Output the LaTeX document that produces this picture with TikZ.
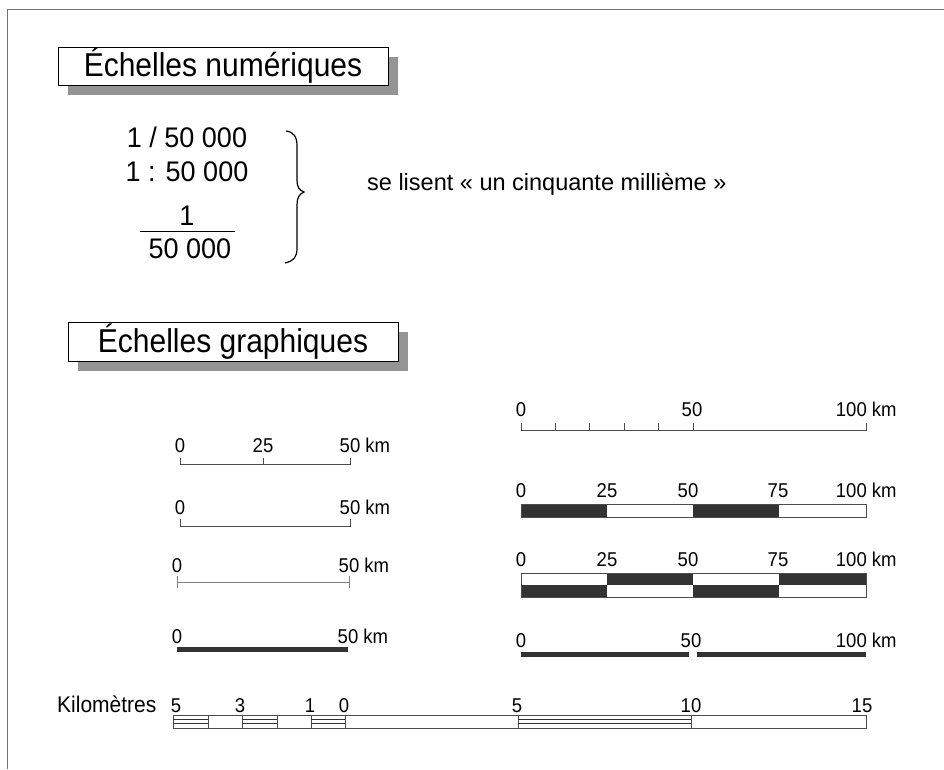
\documentclass[tikz,border=0pt]{standalone}
\usepackage{fontspec}
\setmainfont{Liberation Sans}
\usetikzlibrary{shadows}
\definecolor{barfill}{gray}{0.2}
\definecolor{shadowc}{gray}{0.58}
\definecolor{linec}{gray}{0.3}
\definecolor{framec}{gray}{0.45}
\begin{document}
\begin{tikzpicture}[x=1pt,y=-1pt,
  heading/.style={draw=black, line width=0.8pt, fill=white, inner sep=0pt,
    font=\fontsize{30}{32}\selectfont,
    general shadow={fill=shadowc, shadow xshift=10pt, shadow yshift=-10pt}},
  lab/.style={font=\fontsize{18.5}{20}\selectfont, inner sep=0pt, anchor=base, yscale=1.08},
  labr/.style={lab, anchor=base east},
  num/.style={font=\fontsize{27}{28}\selectfont, inner sep=0pt, anchor=base, yscale=1.05},
  txt/.style={font=\fontsize{23.5}{24}\selectfont, inner sep=0pt, anchor=base west},
  scaleline/.style={draw=linec, line width=0.9pt},
  thickbar/.style={draw=barfill, line width=5pt},
  blk/.style={fill=barfill},
  boxline/.style={draw=linec, line width=0.8pt},
]
\useasboundingbox (0,0) rectangle (944,769);
% page frame
\draw[framec, line width=1pt] (944,9) -- (7,9) -- (7,769);

% ---------- headings ----------
\node[heading, minimum width=330pt, minimum height=38pt] (h1) at (223,66) {\scalebox{1}[1.1]{Échelles numériques}};
\node[heading, minimum width=330pt, minimum height=39pt] (h2) at (233,341.5) {\scalebox{1}[1.1]{Échelles graphiques}};

% ---------- numeric scales ----------
\node[num] (n1) at (187,147) {1 / 50 000};
\node[num] (n2) at (187,181) {1 : 50 000};
\node[num] (n3) at (187,225) {1};
\node[num] (n4) at (190,258) {50 000};
\draw[line width=0.9pt] (140,231) -- (235,231);
\draw[line width=1.2pt] (286,131) .. controls (294,132) and (297,137) .. (297,146) -- (297,180)
   .. controls (297,187) and (299,190) .. (304,192)
   .. controls (299,194) and (297,198) .. (297,205) -- (297,248)
   .. controls (297,257) and (294,261) .. (285,263);
\node[txt] (lis) at (367,190) {se lisent «~un cinquante millième~»};

% ---------- left column ----------
% bar 1
\draw[scaleline] (180,458) -- (180,464) -- (350,464) -- (350,458);
\draw[scaleline] (263,458) -- (263,464);
\node[lab] (a0) at (180,452) {0};
\node[lab] (a25) at (263,452) {25};
\node[lab] (a50) at (350,452) {50\rlap{ km}};
% bar 2
\draw[scaleline] (180,519) -- (180,526) -- (350,526) -- (350,519);
\node[lab] (b0) at (180,514) {0};
\node[lab] (b50) at (350,514) {50\rlap{ km}};
% bar 3
\draw[scaleline, draw=gray] (177,582) -- (349,582);
\draw[scaleline, draw=gray] (177,576) -- (177,588);
\draw[scaleline, draw=gray] (349,576) -- (349,588);
\node[lab] (c0) at (177,572) {0};
\node[lab] (c50) at (349,572) {50\rlap{ km}};
% bar 4
\draw[thickbar] (177,649.5) -- (348,649.5);
\node[lab] (d0) at (177,643) {0};
\node[lab] (d50) at (348,643) {50\rlap{ km}};

% ---------- right column ----------
% bar R1
\draw[scaleline] (521,423) -- (521,430) -- (866,430) -- (866,423);
\foreach \xx in {555,589,624,658,693} \draw[scaleline] (\xx,423) -- (\xx,430);
\node[lab] (e0) at (521,416) {0};
\node[lab] (e50) at (692,416) {50};
\node[labr] (e100) at (867,416) {100\rlap{ km}};
% bar R2
\fill[blk] (521,504) rectangle (607,517);
\fill[blk] (693,504) rectangle (779,517);
\draw[boxline] (521,504) rectangle (866,517);
\node[lab] (f0) at (521,497) {0};
\node[lab] (f25) at (607,497) {25};
\node[lab] (f50) at (688,497) {50};
\node[lab] (f75) at (778,497) {75};
\node[labr] (f100) at (867,497) {100\rlap{ km}};
% bar R3
\fill[blk] (607,573) rectangle (693,585);
\fill[blk] (779,573) rectangle (866,585);
\fill[blk] (521,585) rectangle (607,597);
\fill[blk] (693,585) rectangle (779,597);
\draw[boxline] (521,573) rectangle (866,597);
\node[lab] (g0) at (521,566) {0};
\node[lab] (g25) at (607,566) {25};
\node[lab] (g50) at (688,566) {50};
\node[lab] (g75) at (778,566) {75};
\node[labr] (g100) at (867,566) {100\rlap{ km}};
% bar R4
\draw[thickbar] (521,654.5) -- (689,654.5);
\draw[thickbar] (697,654.5) -- (866,654.5);
\node[lab] (k0) at (521,647) {0};
\node[lab] (k50) at (691,647) {50};
\node[labr] (k100) at (867,647) {100\rlap{ km}};

% ---------- kilometre bar ----------
\draw[boxline, line width=0.7pt] (173,715) rectangle (866,728);
\foreach \xx in {208,242,277,311,345,518,691} \draw[boxline, line width=0.7pt] (\xx,715) -- (\xx,728);
\foreach \aa/\bb in {173/208,242/277,311/345,518/691} {
  \draw[barfill, line width=1pt] (\aa,719.5) -- (\bb,719.5);
  \draw[barfill, line width=1pt] (\aa,723) -- (\bb,723);
}
\node[lab, anchor=base west, font=\fontsize{21}{22}\selectfont] (km) at (57,712) {Kilomètres};
\node[lab] (m5) at (176,712) {5};
\node[lab] (m3) at (240,712) {3};
\node[lab] (m1) at (310,712) {1};
\node[lab] (m0) at (344,712) {0};
\node[lab] (p5) at (517,712) {5};
\node[lab] (p10) at (691,712) {10};
\node[lab] (p15) at (862,712) {15};
\end{tikzpicture}
\end{document}
